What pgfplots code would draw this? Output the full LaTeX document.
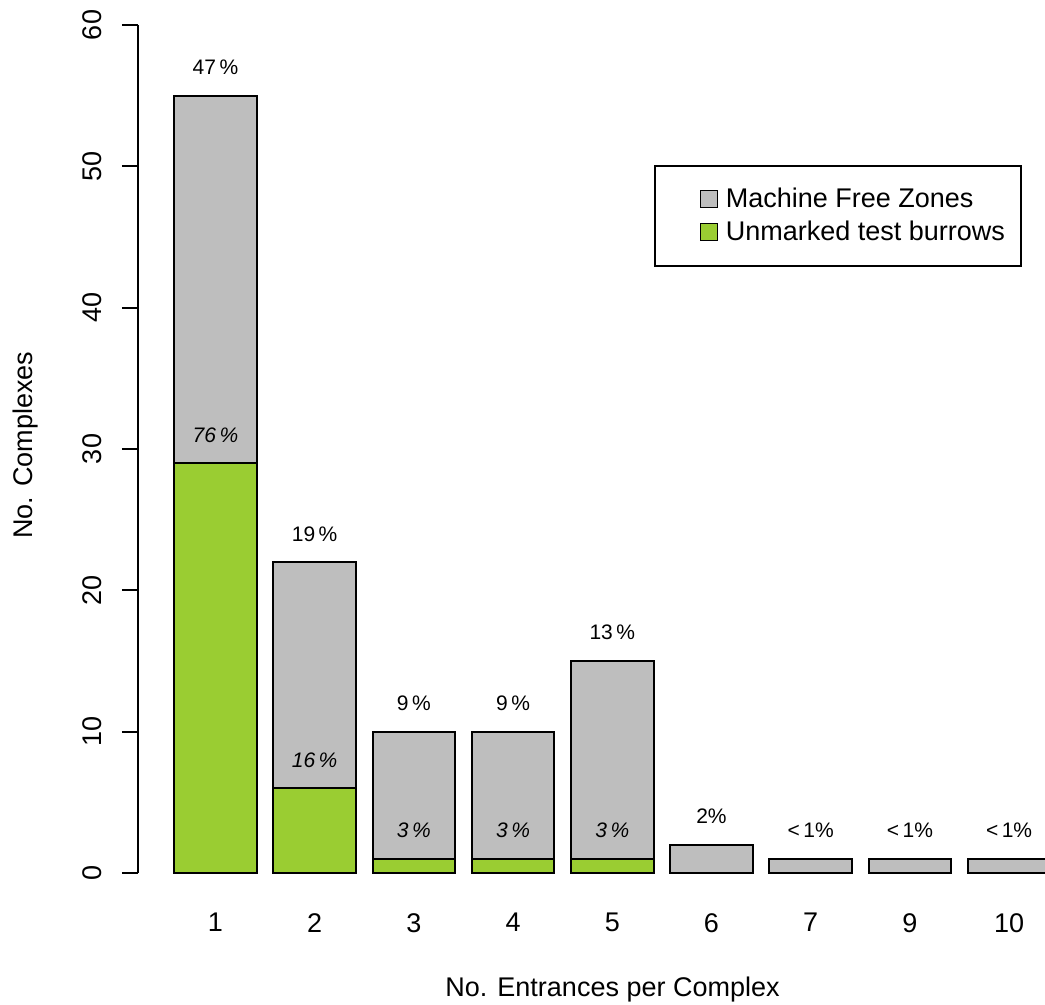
\documentclass[border=0pt]{standalone}
\usepackage{fontspec}
\setmainfont{Liberation Sans}
\usepackage{pgfplots}
\pgfplotsset{compat=1.18}
\definecolor{rgray}{RGB}{190,190,190}
\definecolor{ygreen}{RGB}{154,205,50}
\begin{document}
\begin{tikzpicture}
\path[use as bounding box] (0,0) rectangle (522.5pt,502.5pt);
\begin{axis}[
  at={(69pt,66pt)}, anchor=south west,
  scale only axis, width=453.5pt, height=424pt,
  xmin=0.219, xmax=9.362, ymin=0, ymax=60,
  clip=false,
  axis x line*=bottom, axis y line*=left,
  separate axis lines,
  x axis line style={draw=none},
  y axis line style={-, line width=1pt},
  xtick={1,...,9}, xticklabels={1,2,3,4,5,6,7,9,10},
  xtick style={draw=none},
  ytick={0,10,...,60},
  tick align=outside, major tick length=8pt,
  ytick style={line width=1pt, black},
  tick label style={font=\fontsize{13.5}{16}\selectfont},
  /pgf/number format/assume math mode=true,
  yticklabel style={rotate=90, anchor=south, inner ysep=10pt},
  xticklabel style={anchor=north, inner ysep=12pt},
  xlabel={No. Entrances per Complex},
  ylabel={No. Complexes},
  label style={font=\fontsize{13.5}{16}\selectfont},
  xlabel style={at={(rel axis cs:0.5232,-0.1462)}, anchor=base},
  ylabel style={at={(rel axis cs:-0.1158,0.5047)}, anchor=base},
  legend style={at={(rel axis cs:0.5689,0.8349)}, anchor=north west,
    draw=black, line width=0.8pt, fill=white,
    font=\fontsize{13.5}{16}\selectfont,
    inner xsep=6pt, inner ysep=8.8pt, row sep=0.5pt,
    nodes={inner sep=2pt, text height=10pt, text depth=2pt}},
  legend cell align=left,
]
\addplot[ybar, bar width=0.8333, bar shift=0pt, fill=rgray, draw=black, line width=1pt,
  legend image code/.code={\path[draw=none, fill=none] (0pt,0pt) -- (27.5pt,0pt); \draw[fill=rgray, draw=black, line width=0.5pt] (17pt,-4.25pt) rectangle (25.5pt,4.25pt);}]
  coordinates {(1,55) (2,22) (3,10) (4,10) (5,15) (6,2) (7,1) (8,1) (9,1)};
\addlegendentry{Machine Free Zones}
\addplot[ybar, bar width=0.8333, bar shift=0pt, fill=ygreen, draw=black, line width=1pt,
  legend image code/.code={\path[draw=none, fill=none] (0pt,0pt) -- (27.5pt,0pt); \draw[fill=ygreen, draw=black, line width=0.5pt] (17pt,-4.25pt) rectangle (25.5pt,4.25pt);}]
  coordinates {(1,29) (2,6) (3,1) (4,1) (5,1)};
\addlegendentry{Unmarked test burrows}
\addplot[forget plot, only marks, mark=none, nodes near coords, point meta=explicit symbolic,
  every node near coord/.append style={anchor=center, font=\fontsize{10.5}{12}\selectfont, black}]
  table[meta=lab] {
x y lab
1 57 {47\,\%}
2 24 {19\,\%}
3 12 {9\,\%}
4 12 {9\,\%}
5 17 {13\,\%}
6 4 {2\%}
7 3 {<\,1\%}
8 3 {<\,1\%}
9 3 {<\,1\%}
};
\addplot[forget plot, only marks, mark=none, nodes near coords, point meta=explicit symbolic,
  every node near coord/.append style={anchor=center, font=\fontsize{10.5}{12}\selectfont\itshape, black}]
  table[meta=lab] {
x y lab
1 31 {76\,\%}
2 8 {16\,\%}
3 3 {3\,\%}
4 3 {3\,\%}
5 3 {3\,\%}
};
\end{axis}
\end{tikzpicture}
\end{document}
